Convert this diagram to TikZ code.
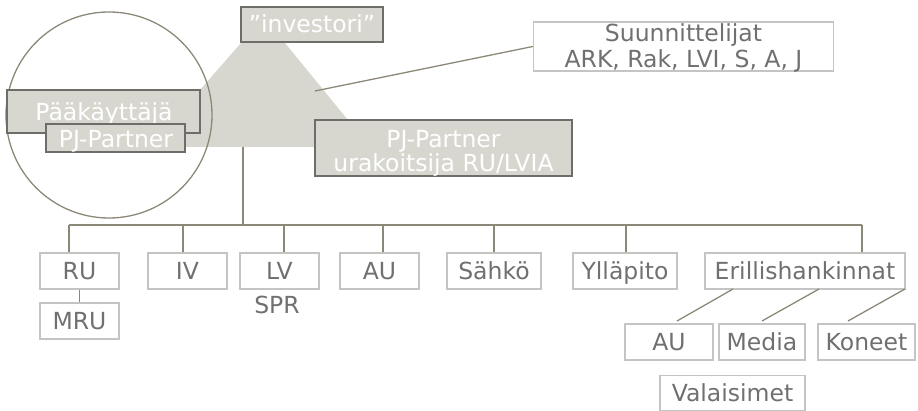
\documentclass[tikz,border=0pt]{standalone}
\usepackage{fontspec}
\setmainfont{DejaVu Sans}
\definecolor{boxfill}{HTML}{D8D7CF}
\definecolor{boxline}{HTML}{6E6E68}
\definecolor{connc}{HTML}{8C8878}
\definecolor{wline}{HTML}{C4C4C4}
\definecolor{txt}{HTML}{707070}
\newcommand{\dfont}{\fontsize{23.5}{26}\selectfont}
\tikzset{
  gbox/.style={draw=boxline, fill=boxfill, line width=1.5pt, inner sep=0pt, text=white, font=\dfont, text height=17pt, text depth=0pt},
  wbox/.style={draw=wline, fill=white, line width=1.4pt, inner sep=0pt, text=txt, font=\dfont, text height=17pt, text depth=0pt},
  connl/.style={draw=connc, line width=1.3pt},
  lbl/.style={anchor=base, inner sep=0pt, font=\dfont, align=center},
}
\begin{document}
\begin{tikzpicture}[x=1pt, y=-1pt]
\useasboundingbox (0,0) rectangle (918,411);
% background shapes
\fill[boxfill] (241,43) -- (285,43) -- (370,147) -- (150,147) -- cycle;
\draw[connc, line width=1.3pt] (109,115) circle[radius=103];
% named coordinates
\coordinate (trunk) at (243,147);
\coordinate (bus) at (243,225);
\coordinate (busL) at (69,225);
\coordinate (busR) at (862,225);
\coordinate (tri) at (315,91);
\coordinate (dIV) at (183,225);
\coordinate (dLV) at (284,225);
\coordinate (dAU) at (383,225);
\coordinate (dS) at (494,225);
\coordinate (dY) at (626,225);
\coordinate (e1) at (733,289);
\coordinate (e2) at (819,289);
\coordinate (e3) at (905,289);
\coordinate (s1) at (677,321);
\coordinate (s2) at (762,321);
\coordinate (s3) at (848,321);
% boxes
\node[gbox, minimum width=142pt, minimum height=35pt] (inv) at (312,24.5) {”investori”};
\node[wbox, minimum width=300pt, minimum height=49pt] (suun) at (683.5,46.5) {};
\node[lbl, text=txt] (suunt) at (683.5,42) {Suunnittelijat};
\node[lbl, text=txt] (suunt2) at (683.5,68) {ARK, Rak, LVI, S, A, J};
\node[gbox, minimum width=193pt, minimum height=43pt] (paa) at (103.5,111.5) {};
\node[lbl, text=white] (paat) at (104,121) {Pääkäyttäjä};
\node[gbox, minimum width=139pt, minimum height=28pt] (pj) at (115.5,138) {};
\node[lbl, text=white] (pjt) at (116,148) {PJ-Partner};
\node[gbox, minimum width=257pt, minimum height=56pt] (ura) at (443.5,148) {};
\node[lbl, text=white] (urat) at (443.5,148) {PJ-Partner};
\node[lbl, text=white] (urat2) at (443.5,172) {urakoitsija RU/LVIA};
\node[wbox, minimum width=79pt, minimum height=36pt] (RU) at (79.5,271) {RU};
\node[wbox, minimum width=79pt, minimum height=36pt] (IV) at (187.5,271) {IV};
\node[wbox, minimum width=79pt, minimum height=36pt] (LV) at (279.5,271) {LV};
\node[wbox, minimum width=79pt, minimum height=36pt] (AU) at (379.5,271) {AU};
\node[wbox, minimum width=94pt, minimum height=36pt] (S) at (494,271) {Sähkö};
\node[wbox, minimum width=104pt, minimum height=36pt] (Y) at (625,271) {Ylläpito};
\node[wbox, minimum width=200pt, minimum height=36pt] (E) at (805,271) {Erillishankinnat};
\node[wbox, minimum width=79pt, minimum height=36pt] (MRU) at (79.5,321) {MRU};
\node[lbl, text=txt] (spr) at (277,314) {SPR};
\node[wbox, minimum width=88pt, minimum height=36pt] (AU2) at (669,342) {AU};
\node[wbox, minimum width=86pt, minimum height=36pt] (M) at (762,342) {Media};
\node[wbox, minimum width=97pt, minimum height=36pt] (K) at (866.5,342) {Koneet};
\node[wbox, minimum width=145pt, minimum height=35pt] (V) at (732.5,393) {Valaisimet};
% connectors
\draw[connl] (suun.west) -- (tri);
\draw[connl] (trunk) -- (bus);
\draw[connl] (busL) -- (busR);
\draw[connl] (busL) -- (busL |- RU.north);
\draw[connl] (dIV) -- (dIV |- IV.north);
\draw[connl] (dLV) -- (dLV |- LV.north);
\draw[connl] (dAU) -- (dAU |- AU.north);
\draw[connl] (dS) -- (dS |- S.north);
\draw[connl] (dY) -- (dY |- Y.north);
\draw[connl] (busR) -- (busR |- E.north);
\draw[connl] (RU.south) -- (MRU.north);
\draw[connl] (e1) -- (s1);
\draw[connl] (e2) -- (s2);
\draw[connl] (e3) -- (s3);
\end{tikzpicture}
\end{document}
